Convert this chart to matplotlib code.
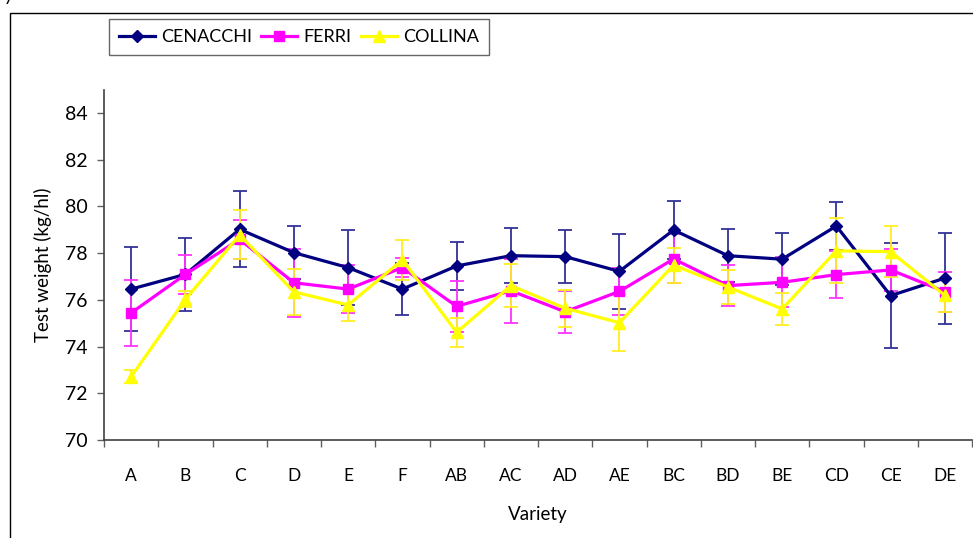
import matplotlib
matplotlib.use("Agg")
import matplotlib.pyplot as plt
from matplotlib.patches import Rectangle
import numpy as np

plt.rcParams['font.family'] = ['Lato', 'DejaVu Sans']

varieties = ["A", "B", "C", "D", "E", "F", "AB", "AC", "AD", "AE",
             "BC", "BD", "BE", "CD", "CE", "DE"]

cenacchi = [76.46, 77.09, 79.02, 78.02, 77.38, 76.46, 77.45, 77.89,
            77.85, 77.22, 78.99, 77.89, 77.74, 79.16, 76.18, 76.93]
cenacchi_err = [1.80, 1.55, 1.63, 1.13, 1.60, 1.13, 1.03, 1.18,
                1.13, 1.60, 1.25, 1.14, 1.12, 1.03, 2.25, 1.95]

ferri = [75.44, 77.09, 78.59, 76.73, 76.46, 77.38, 75.72, 76.39,
         75.49, 76.36, 77.75, 76.61, 76.75, 77.08, 77.28, 76.35]
ferri_err = [1.43, 0.84, 0.83, 1.45, 1.04, 0.40, 1.10, 1.37,
             0.90, 1.00, 1.05, 0.88, 1.07, 1.02, 0.90, 0.85]

collina = [72.71, 76.02, 78.78, 76.34, 75.78, 77.71, 74.61, 76.61,
           75.64, 75.02, 77.49, 76.55, 75.61, 78.10, 78.06, 76.19]
collina_err = [0.28, 0.34, 1.05, 1.00, 0.70, 0.87, 0.62, 0.93,
               0.80, 1.20, 0.75, 0.73, 0.70, 1.40, 1.10, 0.70]

yticks = [70, 72, 74, 76, 78, 80, 82, 84]

W, H = 973, 538
fig = plt.figure(figsize=(W / 100, H / 100), dpi=100)

# outer frame (chart area border)
fig.patches.append(Rectangle((10 / W, -0.05), 1.2, 1 - 13 / H + 0.05,
                             transform=fig.transFigure, fill=False,
                             edgecolor='black', linewidth=1.0))
fig.text(4 / W, 1 + 4 / H, "y", fontsize=13, ha='left', va='center')

ax = fig.add_axes([104 / W, 1 - 440 / H, (972 - 104) / W, (440 - 89.6) / H])

x = np.arange(len(varieties))
series = [
    ("CENACCHI", cenacchi, cenacchi_err, "#000080", "#333399", "D", 6.5),
    ("FERRI", ferri, ferri_err, "#FF00FF", "#FF33FF", "s", 7.5),
    ("COLLINA", collina, collina_err, "#FFFF00", "#FFEE22", "^", 8),
]
handles = []
for name, vals, err, col, ecol, mk, ms in series:
    ax.errorbar(x, vals, yerr=err, fmt='none', ecolor=ecol, elinewidth=1.3,
                capsize=5, capthick=1.3, zorder=2)
    h, = ax.plot(x, vals, color=col, linewidth=2.3, marker=mk, markersize=ms,
                 markerfacecolor=col, markeredgecolor=col, label=name, zorder=3)
    handles.append(h)

ax.set_xlim(-0.5, len(varieties) - 0.5)
ax.set_ylim(70, 85)
ax.set_yticks(yticks)
ax.set_yticklabels([str(v) for v in yticks], fontsize=14)
ax.set_xticks(x)
ax.set_xticklabels(varieties, fontsize=12.5)
ax.set_xticks(np.arange(len(varieties) + 1) - 0.5, minor=True)
ax.tick_params(axis='x', which='major', length=0, pad=20)
ax.tick_params(axis='x', which='minor', length=5, width=1, color='#606060',
               direction='out')
ax.tick_params(axis='y', length=5, width=1, color='#606060', pad=7)

for s in ['top', 'right']:
    ax.spines[s].set_visible(False)
for s in ['left', 'bottom']:
    ax.spines[s].set_color('#404040')
    ax.spines[s].set_linewidth(1.2)

ax.set_xlabel("Variety", fontsize=13.5, labelpad=16)
ax.set_ylabel("Test weight (kg/hl)", fontsize=13.5, labelpad=9)

leg = fig.legend(handles=handles, loc='upper left', ncol=3,
                 bbox_to_anchor=(109 / W, 1 - 19 / H), fontsize=13,
                 frameon=True, fancybox=False, handlelength=2.0,
                 handletextpad=0.35, columnspacing=0.5, borderpad=0.55,
                 borderaxespad=0)
leg.get_frame().set_edgecolor('#404040')
leg.get_frame().set_linewidth(1.0)

fig.savefig("out.png", dpi=100)
